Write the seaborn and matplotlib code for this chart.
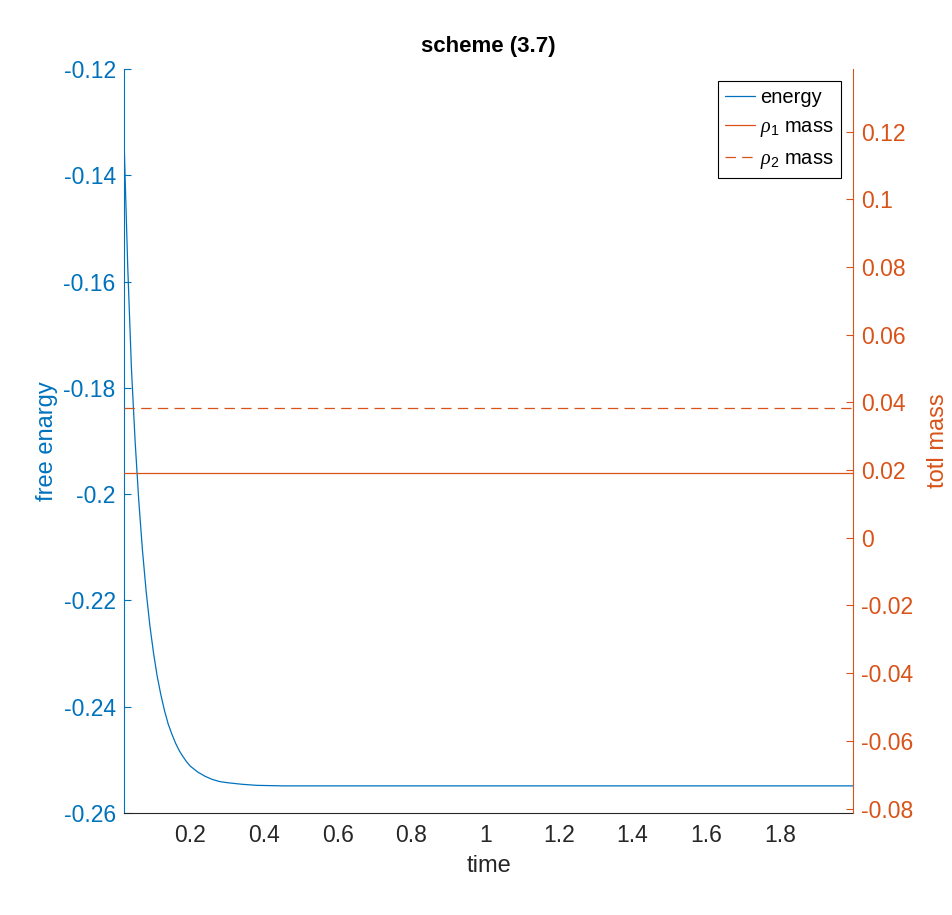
import matplotlib
matplotlib.use("Agg")
from matplotlib import pyplot as plt
from matplotlib.ticker import FuncFormatter, MultipleLocator
import seaborn as sns

# values
time = [0.02, 0.03, 0.04, 0.05, 0.06, 0.07, 0.08, 0.09, 0.10, 0.11,
        0.12, 0.13, 0.14, 0.15, 0.16, 0.17, 0.18, 0.19, 0.20, 0.22,
        0.24, 0.26, 0.28, 0.30, 0.34, 0.38, 0.45, 0.55, 1.0, 1.5, 2.0]
energy = [-0.1335, -0.1572, -0.1763, -0.1900, -0.2013, -0.2106, -0.2183,
          -0.2247, -0.2299, -0.2343, -0.2378, -0.2408, -0.2433, -0.2452,
          -0.2469, -0.2483, -0.2494, -0.2504, -0.2512, -0.2523, -0.2531,
          -0.2537, -0.2541, -0.2543, -0.2546, -0.2548, -0.2549, -0.2549,
          -0.2549, -0.2549, -0.2549]
rho1_mass = 0.0190
rho2_mass = 0.0383

BLUE = "#0072BD"
ORANGE = "#D95319"
DARK = "#262626"


def fmt(v, _):
    s = f"{round(v, 6):g}"
    return "0" if s in ("-0", "0") else s


def main():
    sns.set_style("white")
    plt.rcParams["font.family"] = ["Liberation Sans", "DejaVu Sans"]
    plt.rcParams["mathtext.fontset"] = "custom"
    plt.rcParams["mathtext.it"] = "Liberation Serif:italic"
    plt.rcParams["mathtext.rm"] = "Liberation Sans"
    plt.rcParams["lines.scale_dashes"] = False

    fig = plt.figure(figsize=(9.52, 9.15), dpi=100)
    ax = fig.add_axes([0.1303, 0.1115, 0.896 - 0.1303, 0.9246 - 0.1115])
    ax2 = ax.twinx()

    sns.lineplot(x=time, y=energy, ax=ax, color=BLUE, linewidth=0.9,
                 label="energy", legend=False)
    sns.lineplot(x=time, y=[rho1_mass] * len(time), ax=ax2, color=ORANGE,
                 linewidth=0.9, label=r"$\rho_1$ mass", legend=False)
    sns.lineplot(x=time, y=[rho2_mass] * len(time), ax=ax2, color=ORANGE,
                 linewidth=0.9, label=r"$\rho_2$ mass", legend=False)
    ax2.lines[-1].set_dashes((7.5, 4.5))

    ax.set_xlim(0.02, 1.998)
    ax.set_ylim(-0.26, -0.12)
    ax2.set_ylim(-0.0813, 0.1385)
    ax.xaxis.set_major_locator(MultipleLocator(0.2))
    ax.yaxis.set_major_locator(MultipleLocator(0.02))
    ax2.yaxis.set_major_locator(MultipleLocator(0.02))
    for a in (ax, ax2):
        a.xaxis.set_major_formatter(FuncFormatter(fmt))
        a.yaxis.set_major_formatter(FuncFormatter(fmt))

    ax.spines["top"].set_visible(False)
    ax.spines["right"].set_visible(False)
    for s in ("top", "left", "bottom"):
        ax2.spines[s].set_visible(False)
    ax.spines["left"].set_color(BLUE)
    ax.spines["bottom"].set_color(DARK)
    ax2.spines["right"].set_color(ORANGE)
    for sp in list(ax.spines.values()) + list(ax2.spines.values()):
        sp.set_linewidth(0.8)

    ax.tick_params(axis="x", direction="in", length=5, width=0.8,
                   colors=DARK, labelsize=16.5, pad=8)
    ax.tick_params(axis="y", direction="in", length=5, width=0.8,
                   colors=BLUE, labelsize=16.5, pad=6)
    ax2.tick_params(axis="y", direction="in", length=5, width=0.8,
                    colors=ORANGE, labelsize=16.5, pad=6)

    ax.set_xlabel("time", fontsize=17, color=DARK, labelpad=6)
    ax.set_ylabel("free enargy", fontsize=17, color=BLUE, labelpad=4)
    ax2.set_ylabel("totl mass", fontsize=17, color=ORANGE, labelpad=10)
    ax.set_title("scheme (3.7)", fontsize=16, fontweight="bold",
                 color="black", pad=12)

    handles = ax.get_lines()[:1] + ax2.get_lines()[:2]
    labels = ["energy", r"$\rho_1$ mass", r"$\rho_2$ mass"]
    leg = ax2.legend(handles, labels, loc="upper right", fontsize=14.5,
                     fancybox=False, framealpha=1, edgecolor="black",
                     borderaxespad=0.6, handlelength=1.5, handletextpad=0.25,
                     labelspacing=0.5, borderpad=0.35, labelcolor="black")
    leg.get_frame().set_linewidth(0.8)

    fig.savefig("out.png", dpi=100)


if __name__ == "__main__":
    main()
